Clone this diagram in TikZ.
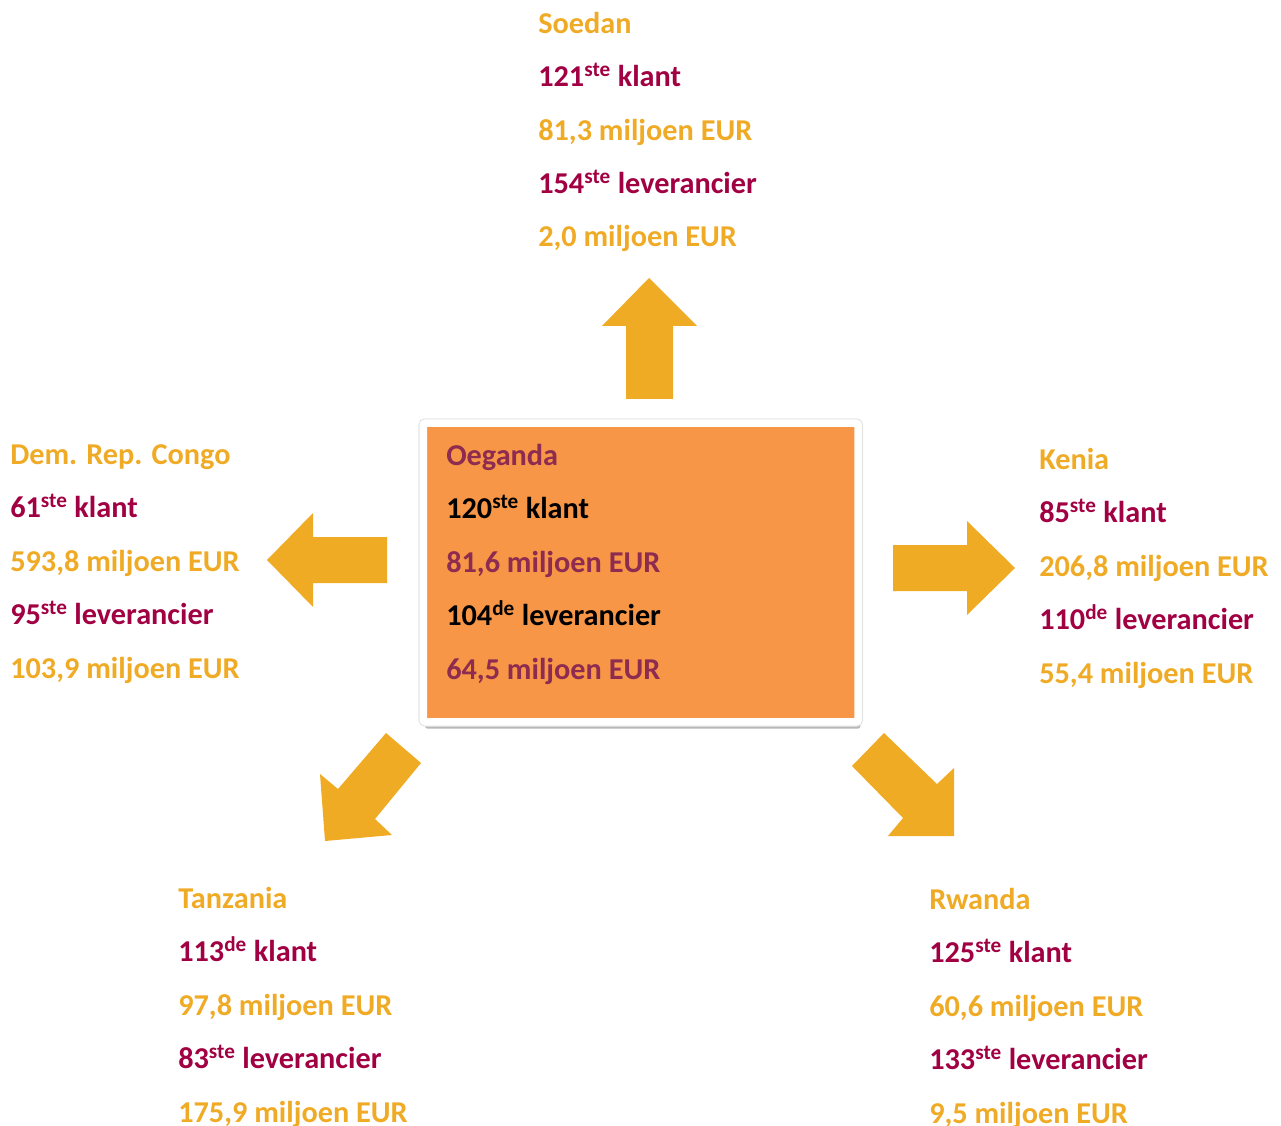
\documentclass[tikz,border=0pt]{standalone}
\usepackage{fontspec}
\setmainfont{Carlito}
\usepackage{tikz}
\usetikzlibrary{shadows}

\definecolor{hubgold}{HTML}{F0AB26}
\definecolor{hubmaroon}{HTML}{A10042}
\definecolor{hubplum}{HTML}{8E2B50}
\definecolor{hubfill}{HTML}{F79646}
\definecolor{arrowgold}{HTML}{EFAB24}

\begin{document}
\begin{tikzpicture}[x=0.75pt, y=-0.75pt,
        blockarrow/.style={fill=arrowgold},
        hubbox/.style={draw=white, line width=6pt, fill=hubfill, rounded corners=2pt,
            minimum width=326.6pt, minimum height=224.3pt, inner sep=0pt,
            drop shadow={shadow xshift=1.5pt, shadow yshift=-5pt, opacity=0.28, fill=black}},
        infotext/.style={anchor=base west, align=left, inner sep=0pt,
            font=\fontsize{22.7}{40.1}\bfseries\selectfont}]
        \useasboundingbox (0,0) rectangle (1281,1126);

        % centre box (text anchored at its last line)
        \node[hubbox] (oeganda) at (640.75,572.5) {};
        \draw[black!10, line width=0.8pt, rounded corners=4pt]
            (oeganda.north west) rectangle (oeganda.south east);
        \node[infotext] (oegandatext) at (446,679) {%
            \textcolor{hubplum}{Oeganda}\\
            120\textsuperscript{ste} klant\\
            \textcolor{hubplum}{81,6 miljoen EUR}\\
            104\textsuperscript{de} leverancier\\
            \textcolor{hubplum}{64,5 miljoen EUR}};

        % arrows
        \fill[blockarrow] (626,399) -- (626,326) -- (602,326) -- (649,278) -- (697,326) -- (673,326) -- (673,399) -- cycle;
        \fill[blockarrow] (387,537) -- (313,537) -- (313,513) -- (267,560) -- (313,607) -- (313,583) -- (387,583) -- cycle;
        \fill[blockarrow] (893,545) -- (967,545) -- (967,521) -- (1015,568) -- (967,615) -- (967,591) -- (893,591) -- cycle;
        \fill[blockarrow] (386,733) -- (338,789) -- (320,774) -- (325,841) -- (392,835) -- (375,819) -- (421,763) -- cycle;
        \fill[blockarrow] (884,733) -- (937,784) -- (954,768) -- (954,836) -- (888,836) -- (903,818) -- (852,766) -- cycle;

        % countries
        \node[infotext] (soedan) at (538,247) {%
            \textcolor{hubgold}{Soedan}\\
            \textcolor{hubmaroon}{121\textsuperscript{ste} klant}\\
            \textcolor{hubgold}{81,3 miljoen EUR}\\
            \textcolor{hubmaroon}{154\textsuperscript{ste} leverancier}\\
            \textcolor{hubgold}{2,0 miljoen EUR}};
        \node[infotext] (congo) at (10,678) {%
            \textcolor{hubgold}{Dem. Rep. Congo}\\
            \textcolor{hubmaroon}{61\textsuperscript{ste} klant}\\
            \textcolor{hubgold}{593,8 miljoen EUR}\\
            \textcolor{hubmaroon}{95\textsuperscript{ste} leverancier}\\
            \textcolor{hubgold}{103,9 miljoen EUR}};
        \node[infotext] (kenia) at (1039,683) {%
            \textcolor{hubgold}{Kenia}\\
            \textcolor{hubmaroon}{85\textsuperscript{ste} klant}\\
            \textcolor{hubgold}{206,8 miljoen EUR}\\
            \textcolor{hubmaroon}{110\textsuperscript{de} leverancier}\\
            \textcolor{hubgold}{55,4 miljoen EUR}};
        \node[infotext] (tanzania) at (178,1122) {%
            \textcolor{hubgold}{Tanzania}\\
            \textcolor{hubmaroon}{113\textsuperscript{de} klant}\\
            \textcolor{hubgold}{97,8 miljoen EUR}\\
            \textcolor{hubmaroon}{83\textsuperscript{ste} leverancier}\\
            \textcolor{hubgold}{175,9 miljoen EUR}};
        \node[infotext] (rwanda) at (929,1123) {%
            \textcolor{hubgold}{Rwanda}\\
            \textcolor{hubmaroon}{125\textsuperscript{ste} klant}\\
            \textcolor{hubgold}{60,6 miljoen EUR}\\
            \textcolor{hubmaroon}{133\textsuperscript{ste} leverancier}\\
            \textcolor{hubgold}{9,5 miljoen EUR}};
\end{tikzpicture}
\end{document}
